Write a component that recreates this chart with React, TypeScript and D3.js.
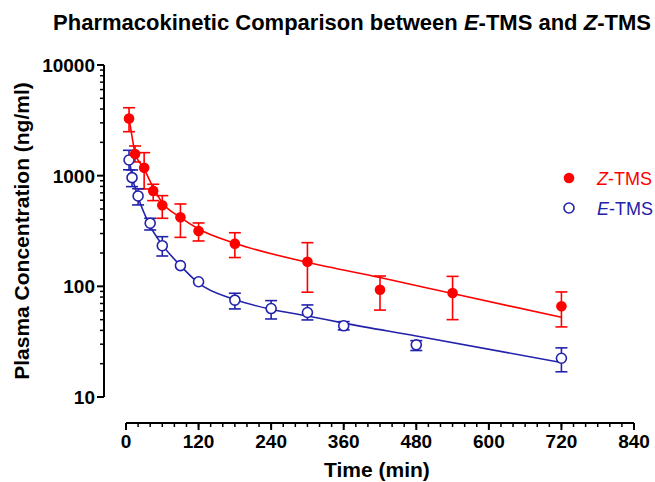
import React from "react";
import * as d3 from "d3";

const zTime = [5, 15, 30, 45, 60, 90, 120, 180, 300, 420, 540, 720];
const zMean = [3290, 1570, 1180, 728, 540, 421, 316, 243, 167, 93, 87, 66];
const zUpper = [4110, 1855, 1614, 836, 660, 555, 374, 305, 248, 124, 123, 89];
const zLower = [2497, 1330, 758, 595, 412, 277, 257, 182, 88.5, 61, 50, 43];

const eTime = [5, 10, 20, 40, 60, 90, 120, 180, 240, 300, 360, 480, 720];
const eMean = [1386, 960, 656, 372, 233, 154, 110, 75, 63, 58, 44, 29.6, 22.4];
const eUpper = [1695, 1126, 762, 412, 281, 158, 113, 86.6, 74.3, 67.9, 48, 32.3, 27.8];
const eLower = [1130, 796, 544, 323, 188, 150, 107, 62.5, 50.7, 49.7, 40.4, 26.3, 16.9];

const zFitTime = [5, 10, 15, 30, 45, 60, 90, 120, 180, 300, 420, 540, 720];
const zFitConc = [3290, 2250, 1600, 1150, 780, 570, 420, 330, 245, 165, 120, 86, 52.5];
const eFitTime = [5, 10, 20, 40, 60, 90, 120, 180, 240, 300, 360, 480, 720];
const eFitConc = [1450, 1000, 640, 350, 237, 154, 107, 76, 62, 54, 46.5, 35.6, 20.5];

const xTicks = [0, 120, 240, 360, 480, 600, 720, 840];
const yTicks = [10, 100, 1000, 10000];

const RED = "#ff0000";
const BLUE = "#2222aa";
const FONT = "'Liberation Sans', Arial, sans-serif";

export default function App() {
  const x = d3.scaleLinear().domain([0, 840]).range([126, 634]);
  const y = d3.scaleLog().domain([10, 10000]).range([397, 65]);
  const axisX = 104;
  const axisY = 423;

  const xMinor = d3.range(0, 841, 20);
  const yMinor: number[] = [];
  for (let dec = 10; dec < 10000; dec *= 10) {
    for (let k = 2; k <= 9; k++) yMinor.push(dec * k);
  }

  const line = d3
    .line<[number, number]>()
    .x((d) => x(d[0]))
    .y((d) => y(d[1]))
    .curve(d3.curveMonotoneX);

  const zFit = zFitTime.map((t, i) => [t, zFitConc[i]] as [number, number]);
  const eFit = eFitTime.map((t, i) => [t, eFitConc[i]] as [number, number]);

  const r = 5;
  const cap = 6;

  const errBars = (times: number[], mean: number[], up: number[], lo: number[], color: string, key: string) =>
    times.map((t, i) => {
      const cx = x(t);
      const yu = y(up[i]);
      const yl = y(lo[i]);
      const ym = y(mean[i]);
      const els = [];
      if (ym - yu > 3) {
        els.push(<line key={key + "u" + i} x1={cx} x2={cx} y1={ym} y2={yu} stroke={color} strokeWidth={1.6} />);
        els.push(<line key={key + "uc" + i} x1={cx - cap} x2={cx + cap} y1={yu} y2={yu} stroke={color} strokeWidth={1.6} />);
      }
      if (yl - ym > 3) {
        els.push(<line key={key + "l" + i} x1={cx} x2={cx} y1={ym} y2={yl} stroke={color} strokeWidth={1.6} />);
        els.push(<line key={key + "lc" + i} x1={cx - cap} x2={cx + cap} y1={yl} y2={yl} stroke={color} strokeWidth={1.6} />);
      }
      return els;
    });

  return (
    <svg width={655} height={482} style={{ position: "absolute", left: 0, top: 0, background: "#fff" }} fontFamily={FONT}>
      <rect x={0} y={0} width={655} height={482} fill="#fff" />
      <text x={352} y={30} textAnchor="middle" fontSize={22} fontWeight="bold" fill="#000">
        Pharmacokinetic Comparison between <tspan fontStyle="italic">E</tspan>-TMS and{" "}
        <tspan fontStyle="italic">Z</tspan>-TMS
      </text>

      {/* Y axis */}
      <line x1={axisX} x2={axisX} y1={y(10000)} y2={y(10)} stroke="#000" strokeWidth={2} />
      {yMinor.map((v) => (
        <line key={"ym" + v} x1={axisX - 4} x2={axisX} y1={y(v)} y2={y(v)} stroke="#000" strokeWidth={1.5} />
      ))}
      {yTicks.map((v) => (
        <g key={"yt" + v}>
          <line x1={axisX - 7} x2={axisX} y1={y(v)} y2={y(v)} stroke="#000" strokeWidth={2} />
          <text x={axisX - 9} y={y(v)} dy="0.36em" textAnchor="end" fontSize={19} fontWeight="bold" fill="#000">
            {v}
          </text>
        </g>
      ))}
      <text
        transform={`translate(29, ${(y(10) + y(10000)) / 2}) rotate(-90)`}
        textAnchor="middle"
        fontSize={21}
        fontWeight="bold"
        fill="#000"
      >
        Plasma Concentration (ng/ml)
      </text>

      {/* X axis */}
      <line x1={x(0)} x2={x(840)} y1={axisY} y2={axisY} stroke="#000" strokeWidth={2} />
      {xMinor.map((v) => (
        <line key={"xm" + v} x1={x(v)} x2={x(v)} y1={axisY} y2={axisY + 4} stroke="#000" strokeWidth={1.5} />
      ))}
      {xTicks.map((v) => (
        <g key={"xt" + v}>
          <line x1={x(v)} x2={x(v)} y1={axisY} y2={axisY + 7} stroke="#000" strokeWidth={2} />
          <text x={x(v)} y={448} textAnchor="middle" fontSize={19} fontWeight="bold" fill="#000">
            {v}
          </text>
        </g>
      ))}
      <text x={x(415)} y={477} textAnchor="middle" fontSize={21} fontWeight="bold" fill="#000">
        Time (min)
      </text>

      {/* Fits */}
      <path d={line(zFit) || ""} fill="none" stroke={RED} strokeWidth={1.6} />
      <path d={line(eFit) || ""} fill="none" stroke={BLUE} strokeWidth={1.6} />

      {/* Error bars */}
      {errBars(zTime, zMean, zUpper, zLower, RED, "z")}
      {errBars(eTime, eMean, eUpper, eLower, BLUE, "e")}

      {/* Markers */}
      {eTime.map((t, i) => (
        <circle key={"ec" + i} cx={x(t)} cy={y(eMean[i])} r={r} fill="#fff" stroke={BLUE} strokeWidth={1.6} />
      ))}
      {zTime.map((t, i) => (
        <circle key={"zc" + i} cx={x(t)} cy={y(zMean[i])} r={r + 0.3} fill={RED} />
      ))}

      {/* Legend */}
      <circle cx={569} cy={178} r={r + 0.3} fill={RED} />
      <text x={597} y={185} fontSize={18} fill={RED}>
        <tspan fontStyle="italic">Z</tspan>-TMS
      </text>
      <circle cx={569} cy={208} r={r} fill="#fff" stroke={BLUE} strokeWidth={1.6} />
      <text x={597} y={215} fontSize={18} fill={BLUE}>
        <tspan fontStyle="italic">E</tspan>-TMS
      </text>
    </svg>
  );
}
